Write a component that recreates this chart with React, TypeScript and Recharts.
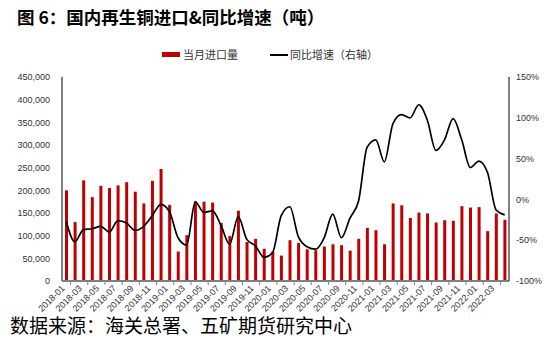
import React from "react";
import { ComposedChart, Bar, Line, XAxis, YAxis, Legend } from "recharts";

const months = [
  "2018-01","2018-02","2018-03","2018-04","2018-05","2018-06","2018-07","2018-08","2018-09","2018-10","2018-11","2018-12",
  "2019-01","2019-02","2019-03","2019-04","2019-05","2019-06","2019-07","2019-08","2019-09","2019-10","2019-11","2019-12",
  "2020-01","2020-02","2020-03","2020-04","2020-05","2020-06","2020-07","2020-08","2020-09","2020-10","2020-11","2020-12",
  "2021-01","2021-02","2021-03","2021-04","2021-05","2021-06","2021-07","2021-08","2021-09","2021-10","2021-11","2021-12",
  "2022-01","2022-02","2022-03","2022-04",
];

const imports = [
  200000,130000,222000,185000,210000,205000,211000,218000,197000,171000,221000,247000,
  168000,65000,101000,175000,175000,173000,128000,99000,155000,86000,93000,71000,
  65000,56000,90000,84000,70000,68000,76000,81000,79000,67000,93000,117000,
  112000,81000,171000,167000,139000,151000,149000,129000,134000,133000,165000,162000,
  163000,110000,149000,135000,
];

const growth = [
  -27,-52,-37,-36,-33,-40,-26,-29,-38,-33,-20,-6,
  -15,-47,-56,-3,-16,-14,-32,-55,-21,-49,-57,-71,
  -65,-20,-9,-46,-58,-61,-47,-18,-47,-23,-2,64,
  73,46,93,104,100,116,97,60,73,99,73,39,
  47,33,-13,-19,
];

const leftTicks = [0,50000,100000,150000,200000,250000,300000,350000,400000,450000];
const rightTicks = [-100,-50,0,50,100,150];

const data = months.map((m, i) => ({ month: m, imports: imports[i], growth: growth[i] }));

const W = 542;
const H = 330;
const PLOT_W = 447;
const STEP = PLOT_W / months.length;
const FONT = "'Liberation Sans', Arial, sans-serif";
const CJK = "'Noto Sans CJK SC', sans-serif";

const XTick = (props: any) => {
  const { x, y, payload } = props;
  const tx = x - 1;
  const ty = y + 8;
  return (
    <g>
      <line x1={x + STEP / 2} x2={x + STEP / 2} y1={y} y2={y + 4} stroke="#7f7f7f" strokeWidth={1} />
      <text x={tx} y={ty} textAnchor="end" transform={`rotate(-45 ${tx} ${ty})`} fontSize={9} fill="#333" fontFamily={FONT}>
        {payload.value}
      </text>
    </g>
  );
};

const LegendContent = () => (
  <div style={{ position: "relative", width: W, height: 16, fontFamily: CJK, fontSize: 11, color: "#333" }}>
    <div style={{ position: "absolute", left: 154, top: 6, width: 18, height: 5, background: "#C00000" }} />
    <div style={{ position: "absolute", left: 175, top: 0, lineHeight: "16px" }}>当月进口量</div>
    <div style={{ position: "absolute", left: 262, top: 8, width: 18, height: 1.5, background: "#000" }} />
    <div style={{ position: "absolute", left: 282, top: 0, lineHeight: "16px" }}>同比增速（右轴）</div>
  </div>
);

export default function App() {
  return (
    <div style={{ position: "relative", width: W, height: 347, background: "#fff" }}>
      <div style={{ position: "absolute", left: 9, top: -3, fontFamily: CJK, fontWeight: 700, fontSize: 17.5, lineHeight: "24px", color: "#000", whiteSpace: "nowrap" }}>
        图 6：国内再生铜进口&amp;同比增速（吨）
      </div>
      <ComposedChart width={W} height={H} data={data} margin={{ top: 53, right: 0, bottom: 7, left: 0 }}>
        <Legend verticalAlign="top" height={16} content={<LegendContent />} wrapperStyle={{ top: 38, left: 0, width: W }} />
        <XAxis
          dataKey="month"
          interval={1}
          height={50}
          tickLine={false}
          tickSize={0}
          tickMargin={0}
          tick={<XTick />}
          axisLine={{ stroke: "#7f7f7f", strokeWidth: 2 }}
        />
        <YAxis
          yAxisId="left"
          orientation="left"
          width={54}
          domain={[0, 450000]}
          ticks={leftTicks}
          tickFormatter={(v: number) => v.toLocaleString("en-US")}
          tickLine={false}
          tickSize={6}
          tickMargin={6}
          tick={{ fontSize: 9, fill: "#333", fontFamily: FONT }}
          axisLine={{ stroke: "#7f7f7f", strokeWidth: 2 }}
        />
        <YAxis
          yAxisId="right"
          orientation="right"
          width={41}
          domain={[-100, 150]}
          ticks={rightTicks}
          tickFormatter={(v: number) => `${v}%`}
          tickLine={false}
          tickSize={4}
          tickMargin={3}
          tick={{ fontSize: 9, fill: "#333", fontFamily: FONT }}
          axisLine={{ stroke: "#000", strokeWidth: 1 }}
        />
        <Bar yAxisId="left" dataKey="imports" name="当月进口量" fill="#C00000" barSize={3} isAnimationActive={false} />
        <Line yAxisId="right" dataKey="growth" name="同比增速（右轴）" type="monotone" stroke="#000" strokeWidth={1.7} dot={false} isAnimationActive={false} />
      </ComposedChart>
      <div style={{ position: "absolute", left: 2, top: 304, fontFamily: CJK, fontSize: 19, lineHeight: "26px", color: "#000", whiteSpace: "nowrap" }}>
        数据来源：海关总署、五矿期货研究中心
      </div>
    </div>
  );
}
